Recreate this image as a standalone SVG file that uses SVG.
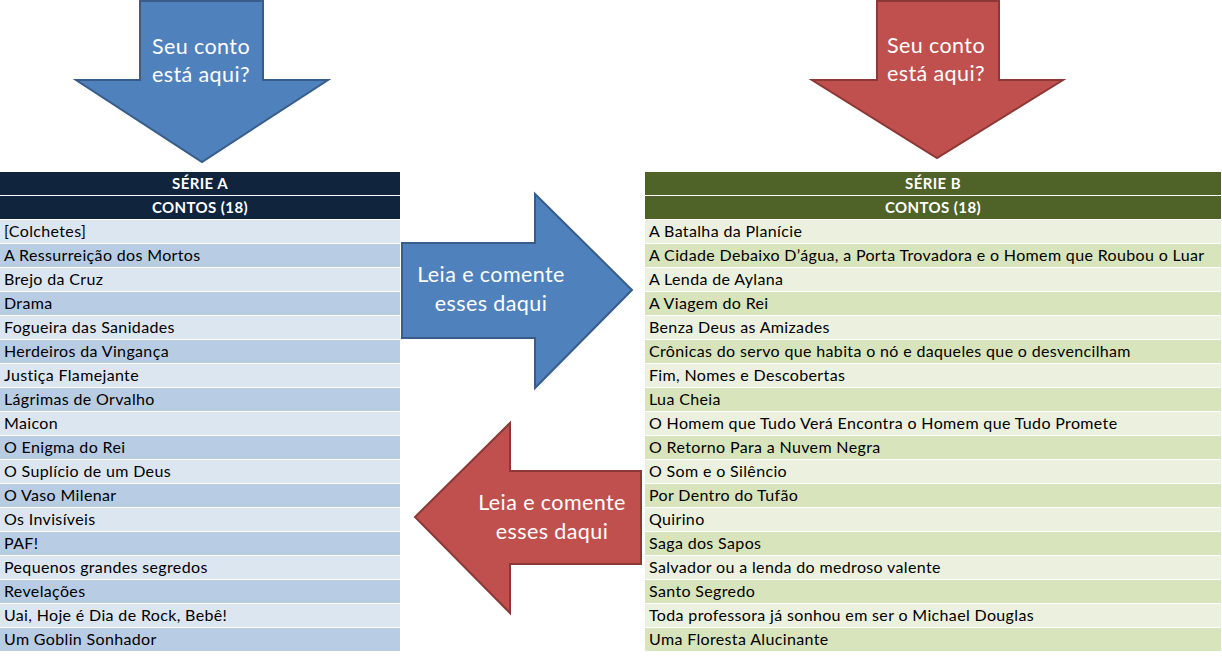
<svg xmlns="http://www.w3.org/2000/svg" width="1222" height="656" viewBox="0 0 1222 656">
<style>
text{font-family:Lato,"Liberation Sans",sans-serif}
.cell{font-size:16px;letter-spacing:0.35px;fill:#000}
.hdr{font-size:15px;letter-spacing:0.4px;font-weight:bold;fill:#fff;text-anchor:middle}
.al{fill:#DCE6F1}.ad{fill:#B8CCE4}.ah{fill:#10243E}
.bl{fill:#EBF1DE}.bd{fill:#D8E4BC}.bh{fill:#4F6228}
.blue{fill:#4F81BD;stroke:#385D8A;stroke-width:2;stroke-linejoin:miter}
.red{fill:#C0504D;stroke:#8C3836;stroke-width:2;stroke-linejoin:miter}
.at{font-size:21.5px;letter-spacing:0.4px;fill:#fff;text-anchor:middle}
</style>
<rect width="1222" height="656" fill="#fff"/>
<g id="arrows">
<g id="arrow-a-down"><path class="blue" d="M140,1 L263,1 L263,80 L328,80 L202,162 L76,80 L140,80 Z"/><text class="at" x="201" y="54">Seu conto</text><text class="at" x="201" y="82">está aqui?</text></g>
<g id="arrow-b-down"><path class="red" d="M877,1 L999,1 L999,80 L1063,80 L937,158 L812,80 L877,80 Z"/><text class="at" x="936" y="53">Seu conto</text><text class="at" x="936" y="81">está aqui?</text></g>
<g id="arrow-right"><path class="blue" d="M402,243 L535,243 L535,194 L632,290 L535,388 L535,338 L402,338 Z"/><text class="at" x="491" y="282">Leia e comente</text><text class="at" x="491" y="311">esses daqui</text></g>
<g id="arrow-left"><path class="red" d="M641,471 L510,471 L510,423 L415,517 L510,613 L510,564 L641,564 Z"/><text class="at" x="552" y="510">Leia e comente</text><text class="at" x="552" y="539">esses daqui</text></g>
</g>
<g id="serie-a">
<rect class="ah" x="0" y="172" width="400" height="23"/><text class="hdr" x="200" y="189">SÉRIE A</text>
<rect class="ah" x="0" y="196" width="400" height="23"/><text class="hdr" x="200" y="213">CONTOS (18)</text>
<rect class="al" x="0" y="220" width="400" height="23"/><text class="cell" x="4" y="237">[Colchetes]</text>
<rect class="ad" x="0" y="244" width="400" height="23"/><text class="cell" x="4" y="261">A Ressurreição dos Mortos</text>
<rect class="al" x="0" y="268" width="400" height="23"/><text class="cell" x="4" y="285">Brejo da Cruz</text>
<rect class="ad" x="0" y="292" width="400" height="23"/><text class="cell" x="4" y="309">Drama</text>
<rect class="al" x="0" y="316" width="400" height="23"/><text class="cell" x="4" y="333">Fogueira das Sanidades</text>
<rect class="ad" x="0" y="340" width="400" height="23"/><text class="cell" x="4" y="357">Herdeiros da Vingança</text>
<rect class="al" x="0" y="364" width="400" height="23"/><text class="cell" x="4" y="381">Justiça Flamejante</text>
<rect class="ad" x="0" y="388" width="400" height="23"/><text class="cell" x="4" y="405">Lágrimas de Orvalho</text>
<rect class="al" x="0" y="412" width="400" height="23"/><text class="cell" x="4" y="429">Maicon</text>
<rect class="ad" x="0" y="436" width="400" height="23"/><text class="cell" x="4" y="453">O Enigma do Rei</text>
<rect class="al" x="0" y="460" width="400" height="23"/><text class="cell" x="4" y="477">O Suplício de um Deus</text>
<rect class="ad" x="0" y="484" width="400" height="23"/><text class="cell" x="4" y="501">O Vaso Milenar</text>
<rect class="al" x="0" y="508" width="400" height="23"/><text class="cell" x="4" y="525">Os Invisíveis</text>
<rect class="ad" x="0" y="532" width="400" height="23"/><text class="cell" x="4" y="549">PAF!</text>
<rect class="al" x="0" y="556" width="400" height="23"/><text class="cell" x="4" y="573">Pequenos grandes segredos</text>
<rect class="ad" x="0" y="580" width="400" height="23"/><text class="cell" x="4" y="597">Revelações</text>
<rect class="al" x="0" y="604" width="400" height="23"/><text class="cell" x="4" y="621">Uai, Hoje é Dia de Rock, Bebê!</text>
<rect class="ad" x="0" y="628" width="400" height="23"/><text class="cell" x="4" y="645">Um Goblin Sonhador</text>
</g>
<g id="serie-b">
<rect class="bh" x="645" y="172" width="576" height="23"/><text class="hdr" x="933" y="189">SÉRIE B</text>
<rect class="bh" x="645" y="196" width="576" height="23"/><text class="hdr" x="933" y="213">CONTOS (18)</text>
<rect class="bl" x="645" y="220" width="576" height="23"/><text class="cell" x="649" y="237">A Batalha da Planície</text>
<rect class="bd" x="645" y="244" width="576" height="23"/><text class="cell" x="649" y="261">A Cidade Debaixo D’água, a Porta Trovadora e o Homem que Roubou o Luar</text>
<rect class="bl" x="645" y="268" width="576" height="23"/><text class="cell" x="649" y="285">A Lenda de Aylana</text>
<rect class="bd" x="645" y="292" width="576" height="23"/><text class="cell" x="649" y="309">A Viagem do Rei</text>
<rect class="bl" x="645" y="316" width="576" height="23"/><text class="cell" x="649" y="333">Benza Deus as Amizades</text>
<rect class="bd" x="645" y="340" width="576" height="23"/><text class="cell" x="649" y="357">Crônicas do servo que habita o nó e daqueles que o desvencilham</text>
<rect class="bl" x="645" y="364" width="576" height="23"/><text class="cell" x="649" y="381">Fim, Nomes e Descobertas</text>
<rect class="bd" x="645" y="388" width="576" height="23"/><text class="cell" x="649" y="405">Lua Cheia</text>
<rect class="bl" x="645" y="412" width="576" height="23"/><text class="cell" x="649" y="429">O Homem que Tudo Verá Encontra o Homem que Tudo Promete</text>
<rect class="bd" x="645" y="436" width="576" height="23"/><text class="cell" x="649" y="453">O Retorno Para a Nuvem Negra</text>
<rect class="bl" x="645" y="460" width="576" height="23"/><text class="cell" x="649" y="477">O Som e o Silêncio</text>
<rect class="bd" x="645" y="484" width="576" height="23"/><text class="cell" x="649" y="501">Por Dentro do Tufão</text>
<rect class="bl" x="645" y="508" width="576" height="23"/><text class="cell" x="649" y="525">Quirino</text>
<rect class="bd" x="645" y="532" width="576" height="23"/><text class="cell" x="649" y="549">Saga dos Sapos</text>
<rect class="bl" x="645" y="556" width="576" height="23"/><text class="cell" x="649" y="573">Salvador ou a lenda do medroso valente</text>
<rect class="bd" x="645" y="580" width="576" height="23"/><text class="cell" x="649" y="597">Santo Segredo</text>
<rect class="bl" x="645" y="604" width="576" height="23"/><text class="cell" x="649" y="621">Toda professora já sonhou em ser o Michael Douglas</text>
<rect class="bd" x="645" y="628" width="576" height="23"/><text class="cell" x="649" y="645">Uma Floresta Alucinante</text>
</g>
</svg>
